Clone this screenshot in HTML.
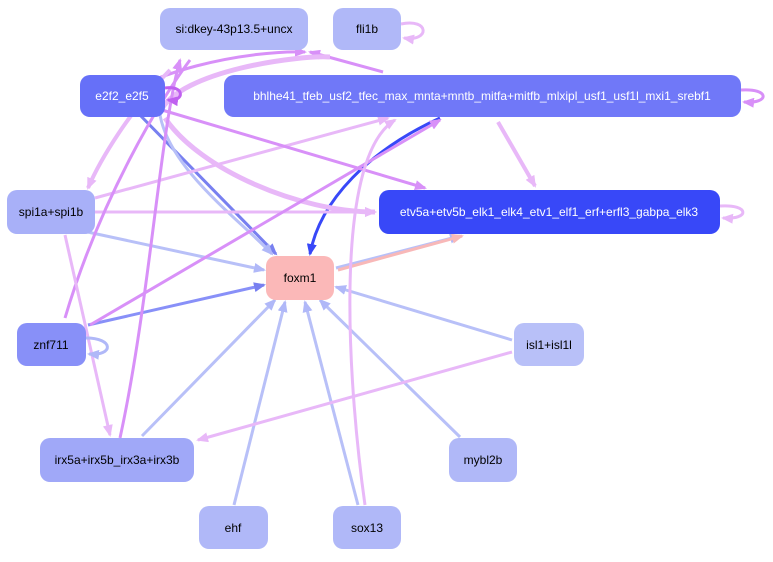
<!DOCTYPE html>
<html><head><meta charset="utf-8"><style>
body{margin:0;background:#fff;width:773px;height:557px;overflow:hidden;font-family:"Liberation Sans",sans-serif}
</style></head><body>
<svg width="773" height="557" viewBox="0 0 773 557" xmlns="http://www.w3.org/2000/svg">
<defs>
<marker id="mP" markerWidth="12" markerHeight="10" refX="10" refY="5" orient="auto" markerUnits="userSpaceOnUse"><path d="M0,0L12,5L0,10z" fill="#d890f8"/></marker>
<marker id="mL" markerWidth="12" markerHeight="10" refX="10" refY="5" orient="auto" markerUnits="userSpaceOnUse"><path d="M0,0L12,5L0,10z" fill="#e8b8f8"/></marker>
<marker id="mB" markerWidth="12" markerHeight="10" refX="10" refY="5" orient="auto" markerUnits="userSpaceOnUse"><path d="M0,0L12,5L0,10z" fill="#b0b8f8"/></marker>
<marker id="mD" markerWidth="12" markerHeight="10" refX="10" refY="5" orient="auto" markerUnits="userSpaceOnUse"><path d="M0,0L12,5L0,10z" fill="#3848f8"/></marker>
<marker id="mM" markerWidth="12" markerHeight="10" refX="10" refY="5" orient="auto" markerUnits="userSpaceOnUse"><path d="M0,0L12,5L0,10z" fill="#7880f0"/></marker>
<marker id="mR" markerWidth="12" markerHeight="10" refX="10" refY="5" orient="auto" markerUnits="userSpaceOnUse"><path d="M0,0L12,5L0,10z" fill="#f8b8b8"/></marker>
<marker id="mC" markerWidth="12" markerHeight="10" refX="10" refY="5" orient="auto" markerUnits="userSpaceOnUse"><path d="M0,0L12,5L0,10z" fill="#c060f0"/></marker>
</defs>
<g fill="none" stroke-width="3">
<path d="M55,225 L264,270" stroke="#b8c0f8" marker-end="url(#mB)"/>
<path d="M88,325 L264,285" stroke="#8890f8" marker-end="url(#mM)"/>
<path d="M142,436 L275,300" stroke="#b8c0f8" marker-end="url(#mB)"/>
<path d="M234,505 L285,302" stroke="#b8c0f8" marker-end="url(#mB)"/>
<path d="M358,505 L305,302" stroke="#b8c0f8" marker-end="url(#mB)"/>
<path d="M460,437 L320,300" stroke="#b8c0f8" marker-end="url(#mB)"/>
<path d="M512,340 L336,287" stroke="#b8c0f8" marker-end="url(#mB)"/>
<path d="M135,110 L276,254" stroke="#7880f0" marker-end="url(#mM)"/>
<path d="M160,115 C170,170 240,220 272,254" stroke="#b8c0f8" marker-end="url(#mB)"/>
<path d="M440,118 C370,150 320,200 310,254" stroke="#3848f8" marker-end="url(#mD)"/>
<path d="M336,268 L460,236" stroke="#b8c0f8" marker-end="url(#mB)"/>
<path d="M338,270 L462,236" stroke="#f8b8b8" marker-end="url(#mR)"/>
<path d="M98,115 C140,70 250,50 305,52" stroke="#d890f8" marker-end="url(#mP)"/>
<path d="M383,72 L310,52" stroke="#d890f8" marker-end="url(#mP)"/>
<path d="M160,112 C180,70 300,55 330,57" stroke="#e8b8f8" stroke-width="5"/>
<path d="M95,198 L388,118" stroke="#e8b8f8" marker-end="url(#mL)"/>
<path d="M95,212 L375,212" stroke="#e8b8f8" marker-end="url(#mL)"/>
<path d="M162,110 L425,188" stroke="#d890f8" marker-end="url(#mP)"/>
<path d="M165,118 C200,170 300,212 375,212" stroke="#e8b8f8" stroke-width="5" marker-end="url(#mL)"/>
<path d="M498,122 L535,186" stroke="#e8b8f8" stroke-width="4" marker-end="url(#mL)"/>
<path d="M90,325 L440,120" stroke="#d890f8" marker-end="url(#mP)"/>
<path d="M65,318 C100,200 160,100 190,60" stroke="#d890f8"/>
<path d="M120,438 C150,300 160,130 180,60" stroke="#d890f8" marker-end="url(#mP)"/>
<path d="M65,235 L110,435" stroke="#e8b8f8" marker-end="url(#mL)"/>
<path d="M512,352 L198,440" stroke="#e8b8f8" marker-end="url(#mL)"/>
<path d="M365,505 C350,400 330,160 395,120" stroke="#e8b8f8" marker-end="url(#mL)"/>
<path d="M170,70 C130,110 100,160 88,188" stroke="#e8b8f8" stroke-width="4" marker-end="url(#mL)"/>
<path d="M401,24 C430,18 430,42 404,38" stroke="#e8b8f8" marker-end="url(#mL)"/>
<path d="M165,88 C185,85 185,102 168,100" stroke="#c060f0" marker-end="url(#mC)"/>
<path d="M741,90 C770,88 770,104 744,102" stroke="#d890f8" marker-end="url(#mP)"/>
<path d="M720,206 C750,204 750,220 723,218" stroke="#e8b8f8" marker-end="url(#mL)"/>
<path d="M86,338 C114,338 114,356 89,354" stroke="#b0b8f8" marker-end="url(#mB)"/>
</g>
<g font-size="12" text-anchor="middle" dominant-baseline="central">
<rect x="160" y="8" width="148" height="42" rx="10" fill="#b0b8f8"/><text x="234" y="29">si:dkey-43p13.5+uncx</text>
<rect x="333" y="8" width="68" height="42" rx="10" fill="#b0b8f8"/><text x="367" y="29">fli1b</text>
<rect x="80" y="75" width="85" height="42" rx="10" fill="#6670f8"/><text x="122" y="96" fill="#fff">e2f2_e2f5</text>
<rect x="224" y="75" width="517" height="42" rx="10" fill="#7078f8"/><text x="482" y="96" fill="#fff">bhlhe41_tfeb_usf2_tfec_max_mnta+mntb_mitfa+mitfb_mlxipl_usf1_usf1l_mxi1_srebf1</text>
<rect x="7" y="190" width="88" height="44" rx="10" fill="#a8b0f8"/><text x="51" y="212">spi1a+spi1b</text>
<rect x="379" y="190" width="341" height="44" rx="10" fill="#3848f8"/><text x="549" y="212" fill="#fff">etv5a+etv5b_elk1_elk4_etv1_elf1_erf+erfl3_gabpa_elk3</text>
<rect x="266" y="256" width="68" height="44" rx="10" fill="#fbb8b8"/><text x="300" y="278">foxm1</text>
<rect x="17" y="323" width="69" height="43" rx="10" fill="#8890f8"/><text x="51" y="345">znf711</text>
<rect x="514" y="323" width="70" height="43" rx="10" fill="#b8c0f8"/><text x="549" y="345">isl1+isl1l</text>
<rect x="40" y="438" width="154" height="44" rx="10" fill="#a0a8f8"/><text x="117" y="460">irx5a+irx5b_irx3a+irx3b</text>
<rect x="449" y="438" width="68" height="44" rx="10" fill="#b0b8f8"/><text x="483" y="460">mybl2b</text>
<rect x="199" y="506" width="69" height="43" rx="10" fill="#b0b8f8"/><text x="233" y="528">ehf</text>
<rect x="333" y="506" width="68" height="43" rx="10" fill="#b0b8f8"/><text x="367" y="528">sox13</text>
</g>
</svg>
</body></html>
